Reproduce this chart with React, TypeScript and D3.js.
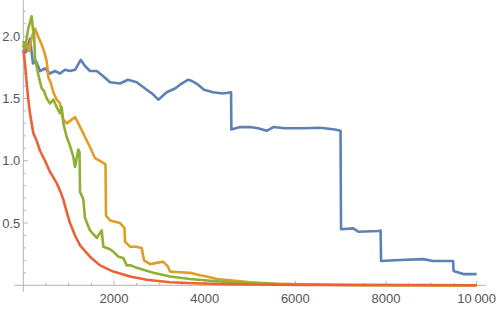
import React from "react";
import * as d3 from "d3";

type Pt = [number, number];

// values: [iteration, value]
const blueSeries: Pt[] = [
  [0, 1.93], [60, 1.87], [148, 1.98], [214, 1.78], [280, 1.8], [368, 1.72],
  [479, 1.74], [589, 1.7], [699, 1.72], [810, 1.7], [920, 1.73], [1030, 1.72],
  [1141, 1.73], [1266, 1.81], [1361, 1.76], [1471, 1.72], [1619, 1.72],
  [1758, 1.68], [1913, 1.63], [2133, 1.62], [2310, 1.65], [2502, 1.63],
  [2722, 1.57], [2839, 1.54], [2978, 1.49], [3163, 1.55], [3347, 1.58],
  [3457, 1.61], [3640, 1.65], [3722, 1.64], [3854, 1.61], [3986, 1.57],
  [4185, 1.55], [4405, 1.54], [4582, 1.55], [4589, 1.25], [4780, 1.27],
  [5001, 1.27], [5178, 1.26], [5369, 1.24], [5515, 1.27], [5773, 1.26],
  [6177, 1.26], [6545, 1.265], [6876, 1.25], [6997, 1.24], [7008, 0.45],
  [7280, 0.457], [7390, 0.43], [7831, 0.436], [7880, 0.44], [7891, 0.195],
  [8310, 0.203], [8817, 0.21], [9038, 0.195], [9479, 0.195], [9490, 0.115],
  [9706, 0.09], [10000, 0.09],
];

const orangeSeries: Pt[] = [
  [0, 1.9], [60, 1.95], [126, 1.88], [192, 2.0], [258, 2.06], [324, 2.0],
  [406, 1.93], [457, 1.88], [516, 1.8], [552, 1.67], [611, 1.62], [662, 1.55],
  [737, 1.49], [810, 1.46], [882, 1.33], [957, 1.3], [1030, 1.32], [1141, 1.35],
  [1213, 1.3], [1295, 1.24], [1361, 1.19], [1471, 1.11], [1582, 1.02],
  [1729, 0.99], [1813, 0.97], [1824, 0.56], [1913, 0.52], [2023, 0.51],
  [2133, 0.5], [2232, 0.46], [2243, 0.35], [2354, 0.31], [2486, 0.31],
  [2612, 0.3], [2663, 0.2], [2795, 0.17], [2943, 0.18], [3082, 0.19],
  [3192, 0.15], [3236, 0.11], [3457, 0.105], [3677, 0.1], [3898, 0.08],
  [4046, 0.07], [4266, 0.05], [4561, 0.04], [5002, 0.025], [5590, 0.013],
  [6472, 0.006], [7428, 0.002], [10000, 0.0],
];

const greenSeries: Pt[] = [
  [0, 1.96], [37, 1.9], [110, 2.06], [185, 2.16], [214, 2.05], [236, 2.04],
  [258, 1.82], [331, 1.69], [406, 1.58], [457, 1.56], [516, 1.5], [589, 1.46],
  [662, 1.49], [737, 1.43], [810, 1.38], [847, 1.43], [882, 1.3], [957, 1.19],
  [1030, 1.12], [1103, 1.03], [1141, 0.95], [1213, 1.09], [1240, 1.07],
  [1251, 0.75], [1324, 0.69], [1361, 0.54], [1471, 0.44], [1619, 0.38],
  [1692, 0.42], [1729, 0.44], [1765, 0.31], [1913, 0.29], [1985, 0.27],
  [2096, 0.23], [2206, 0.22], [2281, 0.16], [2376, 0.16], [2502, 0.14],
  [2685, 0.12], [2868, 0.1], [3236, 0.07], [3677, 0.05], [4191, 0.035],
  [4780, 0.02], [5663, 0.01], [6986, 0.003], [10000, 0.0],
];

const redSeries: Pt[] = [
  [0, 1.89], [15, 1.85], [37, 1.78], [75, 1.62], [110, 1.49], [148, 1.38],
  [221, 1.22], [296, 1.16], [368, 1.08], [479, 1.0], [589, 0.91], [737, 0.82],
  [810, 0.76], [882, 0.69], [957, 0.59], [1030, 0.5], [1141, 0.4], [1251, 0.32],
  [1471, 0.23], [1692, 0.16], [1985, 0.11], [2354, 0.07], [2722, 0.045],
  [3236, 0.025], [3750, 0.016], [4560, 0.008], [6104, 0.003], [10000, 0.0],
];

const seriesColors = ["#5E81B5", "#E19C24", "#8FB032", "#EB6235"];
const xMajorTicks = [2000, 4000, 6000, 8000, 10000];
const xTickLabels = ["2000", "4000", "6000", "8000", "10\u2009000"];
const yMajorTicks = [0.5, 1.0, 1.5, 2.0];
const yTickLabels = ["0.5", "1.0", "1.5", "2.0"];

const W = 498;
const H = 310;

export default function App() {
  const x = d3.scaleLinear().domain([0, 10000]).range([23.3, 476.7]);
  const y = d3.scaleLinear().domain([0, 2.29]).range([285.3, 0]);

  const line = d3
    .line<Pt>()
    .x((d) => x(d[0]))
    .y((d) => y(d[1]));

  const xMinor = d3.range(0, 10001, 500).filter((v) => v % 2000 !== 0);
  const yMinor = d3.range(1, 23).map((v) => v / 10).filter((v) => Math.round(v * 10) % 5 !== 0);

  const axisColor = "#b3b3b3";
  const labelColor = "#555";
  const font = "'Liberation Sans', Arial, sans-serif";

  const allSeries = [blueSeries, orangeSeries, greenSeries, redSeries];

  return (
    <svg width={W} height={H} style={{ position: "absolute", left: 0, top: 0 }}>
      <rect width={W} height={H} fill="#fff" />

      {/* axes */}
      <line x1={x(-200)} x2={x(10200)} y1={y(0)} y2={y(0)} stroke={axisColor} />
      <line x1={x(0)} x2={x(0)} y1={y(-0.05)} y2={y(2.29)} stroke={axisColor} />

      {xMinor.map((v) => (
        <line key={"xm" + v} x1={x(v)} x2={x(v)} y1={y(0)} y2={y(0) - 2.5} stroke={axisColor} />
      ))}
      {xMajorTicks.map((v, i) => (
        <g key={"xM" + v}>
          <line x1={x(v)} x2={x(v)} y1={y(0)} y2={y(0) - 4.5} stroke={axisColor} />
          <text
            x={x(v)}
            y={y(0) + 18}
            textAnchor="middle"
            fontSize={13}
            fontFamily={font}
            fill={labelColor}
          >
            {xTickLabels[i]}
          </text>
        </g>
      ))}

      {yMinor.map((v) => (
        <line key={"ym" + v} x1={x(0)} x2={x(0) + 2.5} y1={y(v)} y2={y(v)} stroke={axisColor} />
      ))}
      {yMajorTicks.map((v, i) => (
        <g key={"yM" + v}>
          <line x1={x(0)} x2={x(0) + 4.5} y1={y(v)} y2={y(v)} stroke={axisColor} />
          <text
            x={x(0) - 3}
            y={y(v)}
            dy="0.35em"
            textAnchor="end"
            fontSize={13}
            fontFamily={font}
            fill={labelColor}
          >
            {yTickLabels[i]}
          </text>
        </g>
      ))}

      {/* series */}
      {allSeries.map((s, i) => (
        <path
          key={"s" + i}
          d={line(s) ?? ""}
          fill="none"
          stroke={seriesColors[i]}
          strokeWidth={2.6}
          strokeLinejoin="round"
        />
      ))}
    </svg>
  );
}
